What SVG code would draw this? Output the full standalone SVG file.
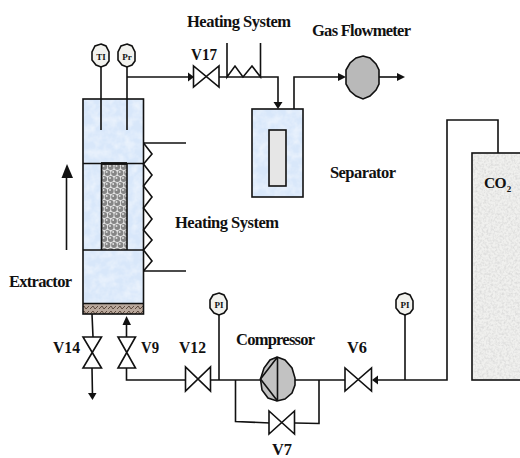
<svg xmlns="http://www.w3.org/2000/svg" width="520" height="458" viewBox="0 0 520 458">
<style>
.t{font-family:"Liberation Serif",serif;font-weight:bold;fill:#111;font-size:16.5px}
.vl{font-size:17.5px}
.l{fill:none;stroke:#111;stroke-width:1.6}
.v{fill:#fff;stroke:#111;stroke-width:1.6}
.g{fill:#f2f2ee;stroke:#111;stroke-width:1.6}
.gt{font-family:"Liberation Serif",serif;font-weight:bold;font-size:9px;fill:#111;text-anchor:middle}
.a{fill:#111}
</style>
<defs>
<pattern id="balls" width="13" height="12" patternUnits="userSpaceOnUse" x="101" y="164">
<rect width="13" height="12" fill="#e4e4e4"/>
<g fill="#858585">
<circle cx="3.250" cy="3" r="2.900"/><circle cx="9.750" cy="3" r="2.900"/>
<circle cx="0" cy="9" r="2.900"/><circle cx="6.500" cy="9" r="2.900"/><circle cx="13" cy="9" r="2.900"/>
</g>
<g fill="#dcdcdc">
<circle cx="2.500" cy="2" r="1"/><circle cx="9" cy="2" r="1"/>
<circle cx="5.700" cy="8" r="1"/><circle cx="12.200" cy="8" r="1"/>
</g>
</pattern>
<pattern id="frit" width="9" height="5" patternUnits="userSpaceOnUse">
<rect width="9" height="5" fill="#b9a89c"/>
<path d="M0 4L3 1L5 4L8 1" stroke="#5d4a3e" stroke-width="1" fill="none"/>
</pattern>
<filter id="grain" x="0" y="0" width="100%" height="100%">
<feTurbulence type="fractalNoise" baseFrequency="0.45" numOctaves="2" seed="3"/>
<feColorMatrix type="matrix" values="0 0 0 0 0.6 0 0 0 0 0.6 0 0 0 0 0.6 0 0 0 1.2 -0.45"/>
</filter>
<filter id="mottle" x="0" y="0" width="100%" height="100%">
<feTurbulence type="fractalNoise" baseFrequency="0.12" numOctaves="3" seed="8"/>
<feColorMatrix type="matrix" values="0 0 0 0 1 0 0 0 0 1 0 0 0 0 1 0 0 0 0.9 -0.3"/>
</filter>
</defs>
<g id="connectors">
<path class="l" d="M101 67V130M127 67V130"/>
<path class="l" d="M127 77H193"/>
<path class="a" d="M188 72.500L188 81.500L194 77Z"/>
<path class="l" d="M219 77H278V104"/>
<path class="a" d="M273.500 102L282.500 102L278 109Z"/>
<path class="l" d="M294 109V77H341"/>
<path class="a" d="M338 73L338 81L346 77Z"/>
<path class="l" d="M379 77H399"/>
<path class="a" d="M397 73L397 81L405 77Z"/>
<path class="l" d="M144 143H186M144 271H186"/>
<path class="l" d="M66.500 250V170"/>
<path class="a" d="M61.500 178L73 178L67 164Z"/>
<path class="l" d="M92 314L93 337M92 368L92.500 396"/>
<path class="a" d="M88 393L96.500 393L92.500 400Z"/>
<path class="l" d="M126.500 337V320"/>
<path class="a" d="M122.500 325L131 325L126.500 316Z"/>
<path class="l" d="M126.500 368V380H186"/>
<path class="l" d="M210 380H346"/>
<path class="l" d="M219 380V305"/>
<path class="l" d="M405 380V305"/>
<path class="l" d="M374 380H447V120H498V153"/>
<path class="a" d="M378 375.500L378 384.500L372 380Z"/>
<path class="l" d="M235.500 380V421.500L270 423M295 423L319 423.500V380"/>
</g>
<g id="extractor">
<rect x="83" y="99" width="60.500" height="205" fill="#d8e7fa"/>
<rect x="83" y="99" width="60.500" height="205" filter="url(#mottle)"/>
<rect x="101.500" y="164" width="25.500" height="86" fill="url(#balls)"/>
<rect x="83" y="303" width="60.500" height="11" fill="url(#frit)"/>
<rect class="l" x="83" y="99" width="60.500" height="215"/>
<path class="l" d="M83 163.500H143.500M83 250H143.500M83 303.500H143.500"/>
<path class="l" d="M101.500 163.500V250M127 163.500V250"/>
<path d="M101 163.500H127" stroke="#111" stroke-width="2.800"/>
<path class="l" d="M101 99V130M127 99V130"/>
<path class="l" d="M143.500 143L152 154L143.500 164L152 175L143.500 186L152 197L143.500 208L152 219L143.500 230L152 240L143.500 250L152 261L143.500 271"/>
</g>
<g id="separator">
<rect x="252" y="109" width="51" height="88" fill="#d8e7fa"/>
<rect x="252" y="109" width="51" height="88" filter="url(#mottle)"/>
<rect class="l" x="252" y="109" width="51" height="88"/>
<rect x="269" y="130" width="17" height="56" fill="#e6e6e6" stroke="#111" stroke-width="1.600"/>
</g>
<g id="co2-tank">
<rect x="472" y="153" width="60" height="227" fill="#f0f0ee" stroke="#111" stroke-width="1.600"/>
<rect x="473" y="154" width="47" height="225" filter="url(#grain)"/>
</g>
<g id="heater-top">
<path class="l" d="M227 43V77L235 66L243 77L252 66L260.500 77V43"/>
</g>
<g id="flowmeter">
<path d="M363 56L370 58L376 64L379 70V84L376 90L370 96L363 99L356 96L350 91L346 84V70L350 63L356 58Z" fill="#b9b9b9" stroke="#111" stroke-width="1.600"/>
</g>
<g id="compressor">
<path d="M277 357L285 360L292 368L295 378V385L292 393L285 399L277 401L268 398L262 390L260.500 379L264 368L270 360Z" fill="#c2c2c2" stroke="#111" stroke-width="1.600"/>
<path class="l" d="M277.500 357V401M277.500 357L260.500 379L277.500 401"/>
</g>
<g id="V17"><path class="v" d="M193.500 66V87L219 66V87Z"/></g>
<g id="V14"><path class="v" d="M83 337H101.500L83 368H101.500Z"/></g>
<g id="V9"><path class="v" d="M118 337H135.500L118 368H135.500Z"/></g>
<g id="V12"><path class="v" d="M185.500 367V391L210.500 367V391Z"/></g>
<g id="V6"><path class="v" d="M345 368V391L371.500 368V391Z"/></g>
<g id="V7"><path class="v" d="M269 411V434L294.500 411V434Z"/></g>
<g id="gauge-TI"><path class="g" d="M101 44L106 46L109 52V61L106 65L101 67L96 65L92 60V52L95 46Z"/><text class="gt" x="101" y="60">TI</text></g>
<g id="gauge-PI-top"><path class="g" d="M127 44L132 46L135 52V61L132 65L127 67L122 65L118 60V52L121 46Z"/><text class="gt" x="127" y="60">Pr</text></g>
<g id="gauge-PI-left"><path class="g" d="M219 293L224 295L227 301V309L224 313L219 315L214 313L210 308V300L213 295Z"/><text class="gt" x="219" y="308">PI</text></g>
<g id="gauge-PI-right"><path class="g" d="M405 293L410 295L413 301V309L410 313L405 315L400 313L396 308V300L399 295Z"/><text class="gt" x="405" y="308">PI</text></g>
<g id="labels">
<text class="t" x="187" y="27" textLength="104" lengthAdjust="spacing">Heating System</text>
<text class="t" x="312" y="36" textLength="99" lengthAdjust="spacing">Gas Flowmeter</text>
<text class="t vl" x="191" y="60" textLength="26" lengthAdjust="spacingAndGlyphs">V17</text>
<text class="t" x="330" y="178" textLength="66" lengthAdjust="spacing">Separator</text>
<text class="t" x="175" y="228" textLength="104" lengthAdjust="spacing">Heating System</text>
<text class="t" x="9" y="287" textLength="63" lengthAdjust="spacing">Extractor</text>
<text class="t" x="484" y="188" style="font-size:15.5px;letter-spacing:-0.6px">CO<tspan dx="0.6" dy="4" style="font-size:9px;letter-spacing:0">2</tspan></text>
<text class="t vl" x="53" y="353" textLength="27" lengthAdjust="spacingAndGlyphs">V14</text>
<text class="t vl" x="141" y="353" textLength="18" lengthAdjust="spacingAndGlyphs">V9</text>
<text class="t vl" x="179" y="353" textLength="27" lengthAdjust="spacingAndGlyphs">V12</text>
<text class="t" x="236" y="345" textLength="79" lengthAdjust="spacing">Compressor</text>
<text class="t vl" x="347" y="353" textLength="20" lengthAdjust="spacingAndGlyphs">V6</text>
<text class="t" x="272" y="455" style="font-size:17px" textLength="20" lengthAdjust="spacingAndGlyphs">V7</text>
</g>
</svg>
